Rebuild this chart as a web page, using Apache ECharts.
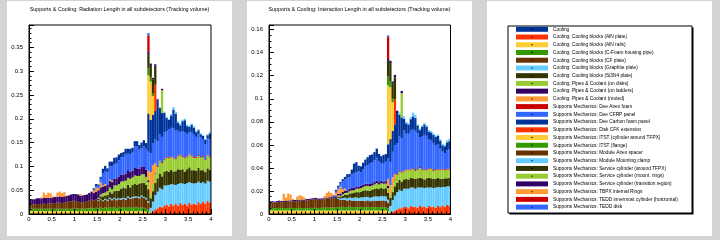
<!DOCTYPE html>
<html>
<head>
<meta charset="utf-8">
<script src="https://cdn.jsdelivr.net/npm/echarts@6/dist/echarts.min.js"></script>
<style>
html,body{margin:0;padding:0;background:#d4d4d4;}
#chart{width:720px;height:240px;}
</style>
</head>
<body>
<div id="chart"></div>
<script>
// eta histogram: 80 bins of 0.05 from 0 to 4
var BIN_W = 0.05, N_BINS = 80;
var etaTicks = [0, 0.5, 1, 1.5, 2, 2.5, 3, 3.5, 4];

// legend order, as listed in the reference
var legendNames = [
	"Cooling",
	"Cooling: Cooling blocks (AlN plate)",
	"Cooling: Cooling blocks (AlN rails)",
	"Cooling: Cooling blocks (C-Foam housing pipe)",
	"Cooling: Cooling blocks (CF plate)",
	"Cooling: Cooling blocks (Graphite plate)",
	"Cooling: Cooling blocks (Si3N4 plate)",
	"Cooling: Pipes & Coolant (on disks)",
	"Cooling: Pipes & Coolant (on ladders)",
	"Cooling: Pipes & Coolant (routed)",
	"Supports Mechanics: Dee Airex foam",
	"Supports Mechanics: Dee CFRP panel",
	"Supports Mechanics: Dee Carbon foam panel",
	"Supports Mechanics: Disk CFK extension",
	"Supports Mechanics: ITST (cylinder around TFPX)",
	"Supports Mechanics: ITST (flange)",
	"Supports Mechanics: Module Airex spacer",
	"Supports Mechanics: Module Mounting clamp",
	"Supports Mechanics: Service cylinder (around TFPX)",
	"Supports Mechanics: Service cylinder (mount. rings)",
	"Supports Mechanics: Service cylinder (transition region)",
	"Supports Mechanics: TBPX internal Rings",
	"Supports Mechanics: TEDD innermost cylinder (horizontal)",
	"Supports Mechanics: TEDD disk"
];

// ---- radiation length x/X0 : pad(first bin, values) ----
var x0DiskCFK = pad(53, [.003,.006,.010,.012,.015,.014,.018,.020,.016,.022,.018,.021,.017,.023,.019,.022,.018,.024,.020,.022,.019,.025,.021,.026,.022,.028,.024]);
var x0ItstCyl = pad(0, [
	.006,.006,.006,.006,.006,.006,.006,.006,.006,.006,
	.006,.006,.006,.006,.006,.006,.006,.006,.006,.006,
	.006,.006,.006,.006,.006,.006,.006,.006,.006,.006,
	.006,.006,.006,.006,.006,.006,.006,.006,.006,.006,
	.006,.006,.006,.006,.006,.006,.006,.006,.006,.006,
	.006,.005,.004]);
var x0ItstFlange = pad(0, [
	.005,.005,.005,.005,.005,.005,.005,.005,.005,.005,
	.005,.005,.005,.005,.005,.005,.005,.005,.005,.005,
	.005,.006,.005,.006,.005,.006,.006,.007,.006,.007,
	.006,.008,.006,.008,.007,.009,.007,.008,.006,.009,
	.007,.008,.007,.009,.008,.007,.009,.008,.007,.008,
	.007,.006,.005]);
var x0ModAirex = pad(0, [
	.009,.009,.009,.010,.010,.010,.011,.010,.011,.011,
	.012,.012,.013,.013,.012,.014,.014,.015,.016,.017,
	.016,.015,.014,.013,.014,.015,.016,.017,.016,.017]);
var x0CfPlate = pad(30, [
	.016,.017,.015,.016,.015,.017,.016,.018,.017,.016,
	.017,.018,.017,.019,.018,.020,.019,.021,.020,.022,
	.021,.020,.015]);
var x0Graphite = pad(30, [
	.001,.001,.002,.002,.002,.002,.003,.002,.003,.002,
	.003,.002,.003,.003,.002,.003,.003,.002,.003,.003,
	.002,.003,.003,
	.010,.020,.030,.035,.040,.038,.042,.040,.045,.041,
	.044,.040,.046,.042,.045,.041,.047,.043,.045,.042,
	.046,.043,.044,.041,.042,.042,.044]);
var x0Si3n4 = pad(30, [
	.003,.005,.008,.007,.010,.012,.011,.014,.017,.016,
	.020,.022,.021,.024,.022,.025,.027,.024,.028,.026,
	.029,.027,
	.025,
	.020,.022,.025,.028,.030,.027,.029,.031,.028,.030,
	.027,.029,.031,.028,.030,.026,.029,.031,.027,.028,
	.026,.029,.027,.025,.024,.026,.025]);
var x0OnDisks = pad(30, [
	.002,.004,.007,.006,.008,.010,.009,.012,.011,.014,
	.015,.013,.016,.015,.018,.016,.017,.019,.016,.018,
	.019,.017,
	.015,
	.010,.015,.020,.024,.026,.028,.025,.027,.029,.026,
	.028,.025,.027,.030,.026,.028,.025,.027,.029,.026,
	.027,.025,.026,.028,.025,.027,.026]);
var x0DeeAirex = pad(55, [.0015,.002,.0015,.002,.002,.0015,.002,.002,.0015,.002,.002,.0015,.002,.002,.0015,.002,.002,.0015,.002,.002,.0015,.002,.002,.0015,.002]);
var x0OnLadders = pad(0, [
	.011,.011,.011,.012,.012,.012,.012,.013,.012,.012,
	.012,.013,.012,.013,.013,.012,.013,.013,.014,.014,
	.015,.014,.013,.014,.015,.014,.016,.017,.016,.017,
	.016,.015,.014,.014,.013,.014,.015,.014,.015,.016,
	.015,.014,.015,.016,.015,.014,.017,.016,.015,.017,
	.016,.015,.004]);
var x0TbpxRings = pad(0, [
	0,0,0,0,0,.002,.011,.006,.011,.010,
	.002,0,.009,.010,.008,.009,0,0,0,0,
	0,0,.004,0,0,0,0,0,.005,.008,
	.004,.010,.002,.004,0,.002,.003]);
var x0Routed = pad(52, [.020,.045,.040,.020]);
var x0DeeCfrp = pad(28, [
	.002,.004,.005,.008,.025,.027,.026,.028,.030,.030,
	.031,.034,.036,.037,.040,.035,.037,.038,.045,.046,
	.040,.038,.042,.044,.040,
	.040,.045,.050,.052,.055,.053,.056,.055,.058,.060,
	.062,.058,.052,.048,.052,.053,.048,.045,.048,.047,
	.042,.044,.042,.034,.032,.034,.036]);
var x0Cooling = pad(28, [
	.003,.004,.003,.004,.010,.011,.009,.010,.010,.014,
	.013,.012,.009,.010,.012,.010,.011,.010,.010,.011,
	.010,.012,.013,.012,.080]);
var x0DeeCarbon = pad(53, [.070,.060,.060,.085,.055,.050,.040,.027,.020,.026,.038,.035,.017,.014,.021,.025,.016,.011,.016,.015,.010,.008,.006,.008,.009,.007,.012]);
var x0Clamp = pad(57, [.002,0,.003,.003,.002,.003,.006,.005,.003,.003,.003,.003,.003,.003,.003,.003,.003,.002,.002,.0015,.002,.002,.0035]);
var x0AlnPlate = pad(55, [.055]);
var x0MountRings = pad(58, [.048]);
var x0AlnRails = pad(52, [.080,.080,.040]);
var x0CFoam = pad(52, [.015,.010,.005]);
var x0SrvTfpx = pad(52, [.030,.025,.030,.040]);
var x0SrvTrans = pad(52, [.004,.003,.003,.003,.003,0,.003]);
var x0TeddInner = pad(52, [.035]);
var x0TeddDisk = pad(52, [.005]);

// ---- interaction length x/lambda ----
var lamDiskCFK = pad(53, [.001,.002,.003,.004,.005,.005,.006,.0065,.005,.007,.006,.0065,.0055,.007,.006,.0065,.0055,.007,.006,.0065,.0055,.007,.006,.0075,.006,.008,.007]);
var lamItstCyl = pad(0, [
	.003,.003,.003,.003,.003,.003,.003,.003,.003,.003,
	.003,.003,.003,.003,.003,.003,.003,.003,.003,.003,
	.003,.003,.003,.003,.003,.003,.003,.003,.003,.003,
	.003,.003,.003,.003,.003,.003,.003,.003,.003,.003,
	.003,.003,.003,.003,.003,.003,.003,.003,.003,.003,
	.003,.003,.0025]);
var lamItstFlange = pad(0, [
	.0022,.0022,.0021,.0022,.0023,.0022,.0022,.0021,.0022,.0023,
	.0022,.0022,.0022,.0023,.0022,.0021,.0022,.0022,.0023,.0022,
	.0024,.0022,.0023,.0025,.0024,.0026,.0025,.0027,.0026,.0028,
	.003,.0028,.0032,.003,.0027,.0033,.003,.0029,.0031,.0028,
	.0032,.003,.0029,.0033,.003,.0028,.0031,.003,.0029,.0032,
	.003,.0028,.0025]);
var lamModAirex = pad(0, [
	.0048,.0049,.0047,.0050,.0052,.0051,.0054,.0053,.0056,.0055,
	.0058,.0060,.0059,.0062,.0064,.0063,.0067,.0069,.0072,.0075,
	.0076,.0072,.0070,.0071,.0074,.0077,.0080,.0084,.0081,.0085]);
var lamCfPlate = pad(30, [
	.0070,.0065,.0060,.0062,.0058,.0060,.0055,.0058,.0054,.0056,
	.0052,.0055,.0053,.0056,.0051,.0054,.0056,.0053,.0057,.0055,
	.0058,.0056,.0045]);
var lamGraphite = pad(30, [
	.001,.001,.0015,.002,.002,.002,.0025,.0025,.003,.0025,
	.003,.003,.0035,.003,.003,.0035,.0035,.004,.0035,.004,
	.0035,.004,
	.003,
	.006,.010,.013,.015,.016,.015,.016,.0155,.017,.016,
	.017,.0155,.0175,.016,.017,.016,.0175,.016,.017,.016,
	.0175,.0165,.017,.016,.0175,.016,.017]);
var lamSi3n4 = pad(30, [
	.001,.0015,.002,.0025,.003,.0035,.004,.004,.0045,.005,
	.005,.0055,.006,.0055,.006,.0065,.0065,.007,.0065,.007,
	.0065,.007,
	.006,
	.007,.007,.008,.008,.0085,.008,.008,.0085,.008,.0085,
	.008,.0085,.008,.0085,.008,.0075,.008,.0085,.008,.008,
	.0075,.008,.0075,.007,.0075,.007,.0075]);
var lamOnDisks = pad(30, [
	.001,.001,.0015,.0015,.002,.002,.0025,.0025,.003,.003,
	.003,.0035,.0035,.004,.004,.0035,.004,.0045,.004,.004,
	.0045,.004,
	.004,
	.003,.005,.006,.007,.007,.008,.007,.0075,.008,.007,
	.008,.007,.0075,.0085,.007,.008,.007,.0075,.008,.007,
	.0075,.007,.0075,.008,.007,.0075,.007]);
var lamDeeAirex = pad(55, [.0007,.0006,.0007,.0008,.0007,.0007,.0006,.0008,.0007,.0007,.0006,.0008,.0007,.0007,.0008,.0006,.0007,.0007,.0008,.0007,.0006,.0007,.0008,.0007,.0007]);
var lamOnLadders = pad(0, [
	.001,.001,.0009,.001,.0011,.001,.001,.0009,.001,.001,
	.0011,.001,.001,.0009,.001,.001,.0011,.001,.0009,.001,
	.001,.0011,.001,.001,.0009,.001,.001,.0011,.001,.0012,
	.0015,.002,.002,.002,.002,.002,.002,.002,.002,.002,
	.002,.002,.002,.002,.002,.002,.002,.002,.002,.002,
	.002,.002,.002]);
var lamTbpxRings = pad(0, [
	0,0,0,0,0,0,.006,.003,.006,.005,
	.001,0,.003,.004,.003,.002,0,0,0,0,
	0,0,0,0,.002,.004,.005,.003,0,.003,
	.004,.006,.002,.002]);
var lamRouted = pad(52, [.006,.008,.008,.004]);
var lamDeeCfrp = pad(28, [
	.001,.0015,.002,.003,.007,.008,.011,.010,.012,.013,
	.012,.013,.012,.013,.015,.016,.018,.018,.019,.020,
	.018,.015,.016,.017,.018,
	.020,.022,.025,.027,.030,.029,.035,.031,.031,.033,
	.034,.034,.031,.026,.029,.030,.029,.025,.024,.023,
	.021,.021,.018,.015,.014,.016,.017]);
var lamCooling = pad(28, [
	.0005,.001,.001,.001,.002,.002,.003,.003,.004,.008,
	.009,.005,.005,.006,.006,.007,.007,.007,.007,.008,
	.0065,.0065,.007,.0065,.012]);
var lamDeeCarbon = pad(53, [.020,.018,.018,.026,.019,.018,.010,.009,.008,.010,.011,.011,.0068,.006,.008,.009,.008,.007,.007,.0075,.007,.0075,.007,.0055,.006,.007,.007]);
var lamClamp = pad(57, [.0018,0,.0023,.0013,.0013,.0018,.0033,.0028,.001,.0013,.0013,.0013,.0013,.0013,.0013,.0013,.0013,.0013,.0013,.0013,.0013,.0018,.0018]);
var lamAlnPlate = pad(55, [.022]);
var lamMountRings = pad(58, [.021]);
var lamAlnRails = pad(52, [.051,.045,.025]);
var lamCFoam = pad(52, [.008,.005,.003]);
var lamSrvTfpx = pad(52, [.014,.016,.013,.019]);
var lamSrvTrans = pad(52, [.001,.002,.002,.002,.002,0,.002]);
var lamTeddInner = pad(52, [.019]);
var lamTeddDisk = pad(52, [.0015]);

// stacking order, bottom first: name, colour, x/X0, x/lambda
var stackLayers = [
	[legendNames[13], "#ff3300", x0DiskCFK, lamDiskCFK],
	[legendNames[14], "#ffcc33", x0ItstCyl, lamItstCyl],
	[legendNames[15], "#339900", x0ItstFlange, lamItstFlange],
	[legendNames[16], "#663300", x0ModAirex, lamModAirex],
	[legendNames[4], "#663300", x0CfPlate, lamCfPlate],
	[legendNames[5], "#66ccff", x0Graphite, lamGraphite],
	[legendNames[6], "#333300", x0Si3n4, lamSi3n4],
	[legendNames[7], "#99cc33", x0OnDisks, lamOnDisks],
	[legendNames[10], "#cc0000", x0DeeAirex, lamDeeAirex],
	[legendNames[8], "#330066", x0OnLadders, lamOnLadders],
	[legendNames[21], "#ff9933", x0TbpxRings, lamTbpxRings],
	[legendNames[9], "#ff9933", x0Routed, lamRouted],
	[legendNames[11], "#3366ff", x0DeeCfrp, lamDeeCfrp],
	[legendNames[0], "#003399", x0Cooling, lamCooling],
	[legendNames[12], "#003399", x0DeeCarbon, lamDeeCarbon],
	[legendNames[17], "#66ccff", x0Clamp, lamClamp],
	[legendNames[1], "#ff3300", x0AlnPlate, lamAlnPlate],
	[legendNames[19], "#99cc33", x0MountRings, lamMountRings],
	[legendNames[2], "#ffcc33", x0AlnRails, lamAlnRails],
	[legendNames[3], "#339900", x0CFoam, lamCFoam],
	[legendNames[18], "#333300", x0SrvTfpx, lamSrvTfpx],
	[legendNames[20], "#330066", x0SrvTrans, lamSrvTrans],
	[legendNames[22], "#cc0000", x0TeddInner, lamTeddInner],
	[legendNames[23], "#3366ff", x0TeddDisk, lamTeddDisk]
];

var titles = [
	"Supports & Cooling: Radiation Length in all subdetectors (Tracking volume)",
	"Supports & Cooling: Interaction Length in all subdetectors (Tracking volume)"
];
var yMax = [0.397, 0.164];
var yStep = [0.05, 0.02];
var yMinor = [5, 4];

function pad(start, vals){
	var a = [];
	for (var i = 0; i < N_BINS; i++) a.push(0);
	for (var j = 0; j < vals.length; j++) a[start + j] = vals[j];
	return a;
}

var binLabels = [];
for (var b = 0; b < N_BINS; b++) binLabels.push((b * BIN_W).toFixed(2));

var FONT = "Liberation Sans";
var grids = [
	{left: 29, top: 25, width: 182, height: 189},
	{left: 269, top: 25, width: 181.5, height: 189}
];
var panels = [[7, 1], [247, 1], [487, 1]];

var xAxes = [], yAxes = [], series = [], graphics = [];

grids.forEach(function(g, k){
	// hidden band axis carries the bins, visible value axis carries the eta scale
	xAxes.push({type: "category", gridIndex: k, show: false, position: "top", boundaryGap: true, data: binLabels});
	xAxes.push({
		type: "value", gridIndex: k, position: "bottom",
		min: etaTicks[0], max: etaTicks[etaTicks.length - 1], interval: 0.5, z: 10,
		axisLine: {show: true, onZero: false, lineStyle: {color: "#000", width: 1}},
		axisTick: {show: true, inside: true, length: 5, lineStyle: {color: "#000"}},
		minorTick: {show: true, splitNumber: 5, length: 2.5, lineStyle: {color: "#000"}},
		axisLabel: {color: "#000", fontSize: 6, fontFamily: FONT, margin: 2},
		splitLine: {show: false}
	});
	yAxes.push({
		type: "value", gridIndex: k, min: 0, max: yMax[k], interval: yStep[k], z: 10,
		axisLine: {show: true, lineStyle: {color: "#000", width: 1}},
		axisTick: {show: true, inside: true, length: 5, lineStyle: {color: "#000"}},
		minorTick: {show: true, splitNumber: yMinor[k], length: 2.5, lineStyle: {color: "#000"}},
		axisLabel: {color: "#000", fontSize: 6, fontFamily: FONT, margin: 6, showMaxLabel: false},
		splitLine: {show: false}
	});
	stackLayers.forEach(function(l){
		series.push({
			type: "bar", name: l[0], xAxisIndex: 2 * k, yAxisIndex: k,
			stack: "s" + k, barWidth: "102%", silent: true,
			itemStyle: {color: l[1]},
			data: l[2 + k]
		});
	});
	// frame on top of the fills
	graphics.push({type: "rect", z: 20, silent: true,
		shape: {x: g.left, y: g.top, width: g.width, height: g.height},
		style: {fill: "transparent", stroke: "#000", lineWidth: 1}});
	graphics.push({type: "text", z: 20, silent: true,
		x: panels[k][0] + 112.5, y: 10,
		style: {text: titles[k], fontSize: 5.4, fontFamily: FONT, fill: "#000", align: "center", verticalAlign: "middle"}});
});

panels.forEach(function(p){
	graphics.push({type: "rect", z: -10, silent: true,
		shape: {x: p[0], y: p[1], width: 225, height: 235},
		style: {fill: "#fff"}});
});

// legend box with shadow
var LEG = {x: 508, y: 26, w: 184, h: 187, iconX: 516, iconW: 32, firstY: 29.3, rowH: 7.73};
graphics.push({type: "rect", z: 2, silent: true,
	shape: {x: LEG.x + 1.5, y: LEG.y + 1.5, width: LEG.w, height: LEG.h}, style: {fill: "#000"}});
graphics.push({type: "rect", z: 3, silent: true,
	shape: {x: LEG.x, y: LEG.y, width: LEG.w, height: LEG.h}, style: {fill: "#fff", stroke: "#000", lineWidth: 1}});
for (var i = 0; i < legendNames.length; i++){
	graphics.push({type: "circle", z: 30, silent: true,
		shape: {cx: LEG.iconX + LEG.iconW / 2, cy: LEG.firstY + i * LEG.rowH, r: 0.7},
		style: {fill: "#000"}});
}

var chart = echarts.init(document.getElementById("chart"), null, {renderer: "canvas"});
chart.setOption({
	animation: false,
	backgroundColor: "#d4d4d4",
	grid: grids,
	xAxis: xAxes,
	yAxis: yAxes,
	legend: {
		orient: "vertical", left: LEG.iconX, top: LEG.firstY - 3,
		itemWidth: LEG.iconW, itemHeight: 5, itemGap: LEG.rowH - 6, padding: 0,
		icon: "rect", selectedMode: false, z: 5,
		textStyle: {fontSize: 4.8, lineHeight: 6, color: "#000", fontFamily: FONT},
		data: legendNames
	},
	graphic: {elements: graphics},
	series: series
});
</script>
</body>
</html>
